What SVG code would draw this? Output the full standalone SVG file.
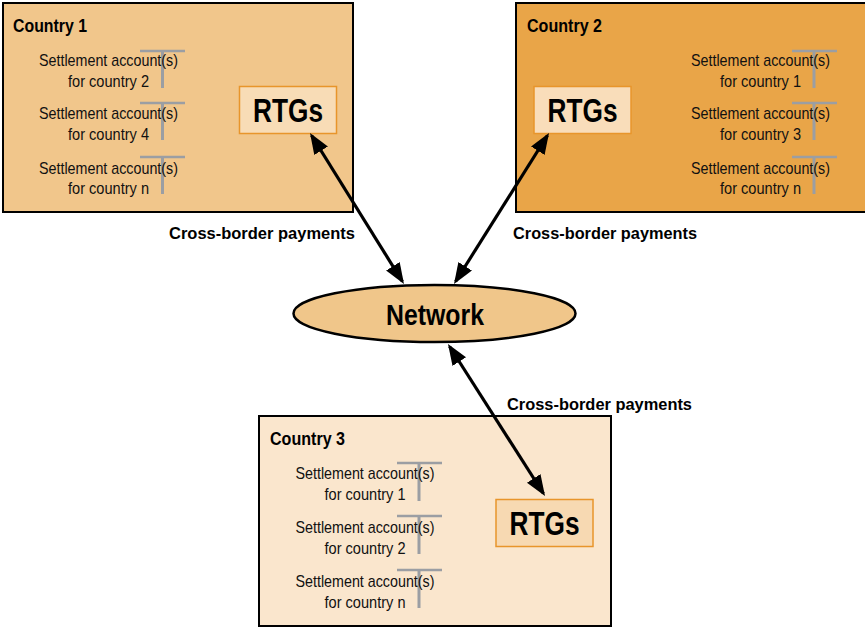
<svg xmlns="http://www.w3.org/2000/svg" width="865" height="629" viewBox="0 0 865 629">
<defs>
<style>
.box{stroke:#000;stroke-width:2}
.rtgs{stroke:#E8952B;stroke-width:1.5}
.title{font-family:"Liberation Sans",Arial,sans-serif;font-weight:bold;font-size:18px;fill:#000}
.acc{font-family:"Liberation Sans",Arial,sans-serif;font-size:17px;fill:#111;text-anchor:middle}
.big{font-family:"Liberation Sans",Arial,sans-serif;font-weight:bold;font-size:33px;fill:#000;text-anchor:middle}
.lbl{font-family:"Liberation Sans",Arial,sans-serif;font-weight:bold;font-size:17px;fill:#000;text-anchor:middle}
.th{stroke:#9B9EA3;stroke-width:2.5}
.tv{stroke:#9B9EA3;stroke-width:3}
.conn{stroke:#000;stroke-width:3.2;fill:none;marker-start:url(#ah);marker-end:url(#ah)}
</style>
<marker id="ah" markerUnits="userSpaceOnUse" markerWidth="24" markerHeight="18" refX="18" refY="8" orient="auto-start-reverse">
<path d="M0,0 L21,8 L0,16 z" fill="#000"/>
</marker>
</defs>

<g id="country1">
<rect class="box" x="3" y="3" width="350" height="209" fill="#F1C68B"/>
<text class="title" x="13" y="32" textLength="74" lengthAdjust="spacingAndGlyphs">Country 1</text>
<g>
<line class="th" x1="140" y1="51" x2="185" y2="51"/><line class="tv" x1="162.5" y1="51" x2="162.5" y2="88"/>
<text class="acc" x="108.5" y="66" textLength="139" lengthAdjust="spacingAndGlyphs">Settlement account(s)</text>
<text class="acc" x="108.5" y="87" textLength="81" lengthAdjust="spacingAndGlyphs">for country 2</text>
</g>
<g>
<line class="th" x1="140" y1="103" x2="185" y2="103"/><line class="tv" x1="162.5" y1="103" x2="162.5" y2="140"/>
<text class="acc" x="108.5" y="119" textLength="139" lengthAdjust="spacingAndGlyphs">Settlement account(s)</text>
<text class="acc" x="108.5" y="140" textLength="81" lengthAdjust="spacingAndGlyphs">for country 4</text>
</g>
<g>
<line class="th" x1="140" y1="157" x2="185" y2="157"/><line class="tv" x1="162.5" y1="157" x2="162.5" y2="194"/>
<text class="acc" x="108.5" y="174" textLength="139" lengthAdjust="spacingAndGlyphs">Settlement account(s)</text>
<text class="acc" x="108.5" y="194" textLength="81" lengthAdjust="spacingAndGlyphs">for country n</text>
</g>
<g id="rtgs1">
<rect class="rtgs" x="239.5" y="86.5" width="97" height="47" fill="#F8DCB6"/>
<text class="big" x="288" y="122" textLength="70" lengthAdjust="spacingAndGlyphs">RTGs</text>
</g>
</g>

<g id="country2">
<rect class="box" x="516" y="3" width="360" height="209" fill="#E9A548"/>
<text class="title" x="527" y="32" textLength="75" lengthAdjust="spacingAndGlyphs">Country 2</text>
<g>
<line class="th" x1="792" y1="51" x2="837" y2="51"/><line class="tv" x1="814" y1="51" x2="814" y2="88"/>
<text class="acc" x="760.5" y="66" textLength="139" lengthAdjust="spacingAndGlyphs">Settlement account(s)</text>
<text class="acc" x="760.5" y="87" textLength="81" lengthAdjust="spacingAndGlyphs">for country 1</text>
</g>
<g>
<line class="th" x1="792" y1="103" x2="837" y2="103"/><line class="tv" x1="814" y1="103" x2="814" y2="140"/>
<text class="acc" x="760.5" y="119" textLength="139" lengthAdjust="spacingAndGlyphs">Settlement account(s)</text>
<text class="acc" x="760.5" y="140" textLength="81" lengthAdjust="spacingAndGlyphs">for country 3</text>
</g>
<g>
<line class="th" x1="792" y1="157" x2="837" y2="157"/><line class="tv" x1="814" y1="157" x2="814" y2="194"/>
<text class="acc" x="760.5" y="174" textLength="139" lengthAdjust="spacingAndGlyphs">Settlement account(s)</text>
<text class="acc" x="760.5" y="194" textLength="81" lengthAdjust="spacingAndGlyphs">for country n</text>
</g>
<g id="rtgs2">
<rect class="rtgs" x="534" y="86.5" width="97" height="47" fill="#F9DDBA"/>
<text class="big" x="582.5" y="122" textLength="70" lengthAdjust="spacingAndGlyphs">RTGs</text>
</g>
</g>

<g id="country3">
<rect class="box" x="259" y="416" width="352" height="210" fill="#FAE6CD"/>
<text class="title" x="270" y="445" textLength="75" lengthAdjust="spacingAndGlyphs">Country 3</text>
<g>
<line class="th" x1="397" y1="463" x2="442" y2="463"/><line class="tv" x1="419" y1="463" x2="419" y2="501"/>
<text class="acc" x="365" y="479" textLength="139" lengthAdjust="spacingAndGlyphs">Settlement account(s)</text>
<text class="acc" x="365" y="500" textLength="81" lengthAdjust="spacingAndGlyphs">for country 1</text>
</g>
<g>
<line class="th" x1="397" y1="516" x2="442" y2="516"/><line class="tv" x1="419" y1="516" x2="419" y2="554"/>
<text class="acc" x="365" y="533" textLength="139" lengthAdjust="spacingAndGlyphs">Settlement account(s)</text>
<text class="acc" x="365" y="554" textLength="81" lengthAdjust="spacingAndGlyphs">for country 2</text>
</g>
<g>
<line class="th" x1="397" y1="570" x2="442" y2="570"/><line class="tv" x1="419" y1="570" x2="419" y2="608"/>
<text class="acc" x="365" y="587" textLength="139" lengthAdjust="spacingAndGlyphs">Settlement account(s)</text>
<text class="acc" x="365" y="608" textLength="81" lengthAdjust="spacingAndGlyphs">for country n</text>
</g>
<g id="rtgs3">
<rect class="rtgs" x="496" y="499.5" width="97" height="47" fill="#F7D9B2"/>
<text class="big" x="544.5" y="535" textLength="70" lengthAdjust="spacingAndGlyphs">RTGs</text>
</g>
</g>

<g id="network">
<ellipse cx="434.5" cy="313.5" rx="141" ry="28.5" fill="#F0C68A" stroke="#000" stroke-width="2.5"/>
<text class="big" x="435" y="325" style="font-size:29px" textLength="98" lengthAdjust="spacingAndGlyphs">Network</text>
</g>

<g id="connectors">
<line class="conn" x1="311.6" y1="135.5" x2="402.4" y2="281.5"/>
<line class="conn" x1="547.4" y1="135.5" x2="455.6" y2="281.5"/>
<line class="conn" x1="449.6" y1="346.5" x2="543.4" y2="493.5"/>
<text class="lbl" x="262" y="239" textLength="186" lengthAdjust="spacingAndGlyphs">Cross-border payments</text>
<text class="lbl" x="605" y="239" textLength="184" lengthAdjust="spacingAndGlyphs">Cross-border payments</text>
<text class="lbl" x="599.5" y="410" textLength="185" lengthAdjust="spacingAndGlyphs">Cross-border payments</text>
</g>
</svg>
